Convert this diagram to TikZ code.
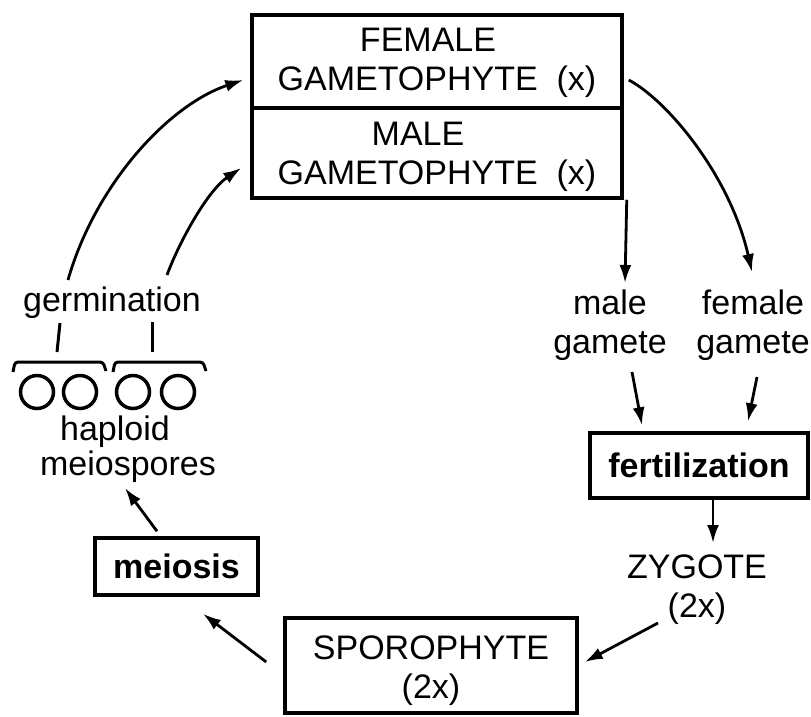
\documentclass[tikz,border=0pt]{standalone}
\usepackage{fontspec}
\setmainfont{Liberation Sans}
\usetikzlibrary{arrows.meta,calc}
\newcommand{\dropped}[2]{\raisebox{#1}[\height][\depth]{\begin{tabular}{@{}c@{}}#2\end{tabular}}}
\begin{document}
\begin{tikzpicture}[x=1pt,y=-1pt,
  every node/.style={font=\fontsize{34}{39}\selectfont, inner sep=0pt, align=center},
  bold/.style={font=\fontsize{34}{39}\selectfont\bfseries},
  box/.style={draw, line width=3.5pt, rectangle},
  arr/.style={line width=2.8pt, -{Latex[length=18pt,width=12pt]}},
  spore/.style={draw, circle, line width=3.5pt, minimum size=33pt},
  brace/.style={line width=3pt, rounded corners=3pt}]
\useasboundingbox (0,0) rectangle (811,716);
% main box
\node[box, minimum width=370pt, minimum height=93pt] (fem) at (437,61.5) {\dropped{-2pt}{FEMALE\hspace*{18pt}\\GAMETOPHYTE~~(x)}};
\node[box, minimum width=370pt, minimum height=90pt] (mal) at (437,153) {\dropped{-4pt}{MALE\hspace*{38pt}\\GAMETOPHYTE~~(x)}};
% left side
\node (germ) at (112,303) {germination};
\node[spore] (s1) at (37,392) {};
\node[spore] (s2) at (80,392) {};
\node[spore] (s3) at (133,392) {};
\node[spore] (s4) at (178,392) {};
\draw[brace] (13,372) -- (15,362) -- (103,362) -- (106,371);
\draw[brace] (113,372) -- (115,362) -- (203,362) -- (206,371);
\draw[line width=3pt] (60,323) -- (57,352);
\draw[line width=3pt] (152,322) -- (152,352);
\node (hap) at (115,432) {haploid};
\node (msp) at (128,467) {meiospores};
\node[box, bold, minimum width=163pt, minimum height=57pt] (mei) at (176.5,566.5) {meiosis};
% right side
\node (mg) at (610,325) {male\\gamete};
\node (fg) at (753,325) {female\\gamete};
\node[box, bold, minimum width=218pt, minimum height=65pt] (fert) at (699,465.5) {fertilization};
\node (zyg) at (697,590) {ZYGOTE\\(2x)};
\node[box, minimum width=292pt, minimum height=95pt] (spor) at (431,665.5) {\dropped{-6pt}{SPOROPHYTE\\(2x)}};
% arrows
\draw[arr] ($(mg.center)+(22,47)$) -- ($(fert.north)+(-57,-6)$);
\draw[arr] ($(fg.center)+(4,52)$) -- ($(fert.north)+(49,-10)$);
\draw[arr] ($(fert.south)+(14,0)$) -- ($(zyg.center)+(16,-47)$);
\draw[arr] ($(zyg.center)+(-39,33)$) -- ($(spor.east)+(6,-3.5)$);
\draw[arr] ($(spor.west)+(-17,-3.5)$) -- ($(mei.south)+(26.5,17)$);
\draw[arr] ($(mei.north)+(-19.5,-5)$) -- ($(msp.center)+(-3,21)$);
\draw[arr] ($(germ.center)+(-44,-23)$) .. controls +(27,-95) and +(-75,25) .. ($(fem.west)+(-7,18.5)$);
\draw[arr] ($(germ.center)+(55,-28)$) .. controls +(13,-35) and +(-33,22) .. ($(mal.west)+(-9,15)$);
\draw[arr] ($(fem.east)+(5,18.5)$) .. controls +(38,20) and +(-22,-97) .. ($(fg.center)+(-1,-53)$);
\draw[arr] ($(mal.south east)+(3,0)$) -- ($(mg.center)+(15,-42)$);
\end{tikzpicture}
\end{document}
